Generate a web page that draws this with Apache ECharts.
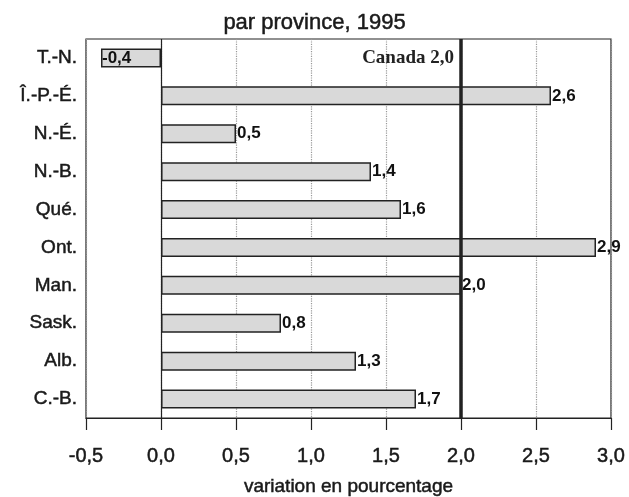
<!DOCTYPE html>
<html><head><meta charset="utf-8">
<script src="https://cdn.jsdelivr.net/npm/echarts@6/dist/echarts.min.js"></script>
<style>html,body{margin:0;padding:0;background:#fff}#c{width:629px;height:497px}</style>
</head><body><div id="c"></div>
<script>
const categories = ['T.-N.', 'Î.-P.-É.', 'N.-É.', 'N.-B.', 'Qué.', 'Ont.', 'Man.', 'Sask.', 'Alb.', 'C.-B.'];
const values = [-0.4, 2.6, 0.5, 1.4, 1.6, 2.9, 2.0, 0.8, 1.3, 1.7];
const canadaValue = 2.0;
const canadaLabel = 'Canada 2,0';
const fmt = v => v.toFixed(1).replace('.', ',');
const font = 'Liberation Sans, Arial, sans-serif';
const heavy = { textBorderColor: '#1a1a1a', textBorderWidth: 0.5 };

const chart = echarts.init(document.getElementById('c'));
chart.setOption({
  animation: false,
  title: { text: 'par province, 1995', left: 'center', top: 7,
    textStyle: Object.assign({ fontFamily: font, fontSize: 22, fontWeight: 'normal', color: '#1a1a1a' }, heavy) },
  grid: { left: 86, right: 18, top: 39, bottom: 79, show: true, borderColor: '#222', borderWidth: 1.2,
    outerBoundsMode: 'none', containLabel: false },
  xAxis: {
    type: 'value', min: -0.5, max: 3, interval: 0.5,
    name: 'variation en pourcentage', nameLocation: 'middle', nameGap: 59,
    nameTextStyle: Object.assign({ fontFamily: font, fontSize: 19, color: '#1a1a1a' }, heavy),
    axisLine: { show: true, lineStyle: { color: '#222', width: 1.2 } },
    axisTick: { show: true, length: 12, lineStyle: { color: '#222', width: 1.2 } },
    axisLabel: Object.assign({ fontFamily: font, fontSize: 20, color: '#1a1a1a', margin: 28, formatter: v => fmt(v) }, heavy),
    splitLine: { show: true, lineStyle: { type: 'dotted', color: '#999', width: 1.2 } }
  },
  yAxis: {
    type: 'category', data: categories, inverse: true,
    axisLine: { show: false }, axisTick: { show: false },
    axisLabel: Object.assign({ fontFamily: font, fontSize: 19, color: '#1a1a1a', margin: 9 }, heavy)
  },
  series: [{
    type: 'bar', barWidth: 19,
    data: values.map(v => ({ value: v, label: { position: v < 0 ? 'insideLeft' : 'right', distance: 1 } })),
    itemStyle: { color: '#d9d9d9', borderColor: '#222', borderWidth: 1.5 },
    label: { show: true, fontFamily: font, fontSize: 17, fontWeight: 'bold', color: '#111',
      formatter: p => fmt(p.value) },
    markLine: {
      symbol: 'none', silent: true, label: { show: false },
      data: [
        { xAxis: 0, lineStyle: { color: '#222', width: 1.2, type: 'solid' } },
        { xAxis: canadaValue, lineStyle: { color: '#222', width: 3.5, type: 'solid' } }
      ]
    },
    markPoint: {
      symbol: 'circle', symbolSize: 0,
      data: [{ coord: [canadaValue, categories[0]],
        label: { show: true, position: 'left', distance: 7, formatter: canadaLabel,
          fontFamily: 'Liberation Serif, DejaVu Serif, serif', fontSize: 19, fontWeight: 'bold', color: '#222' } }]
    }
  }]
});
</script></body></html>
